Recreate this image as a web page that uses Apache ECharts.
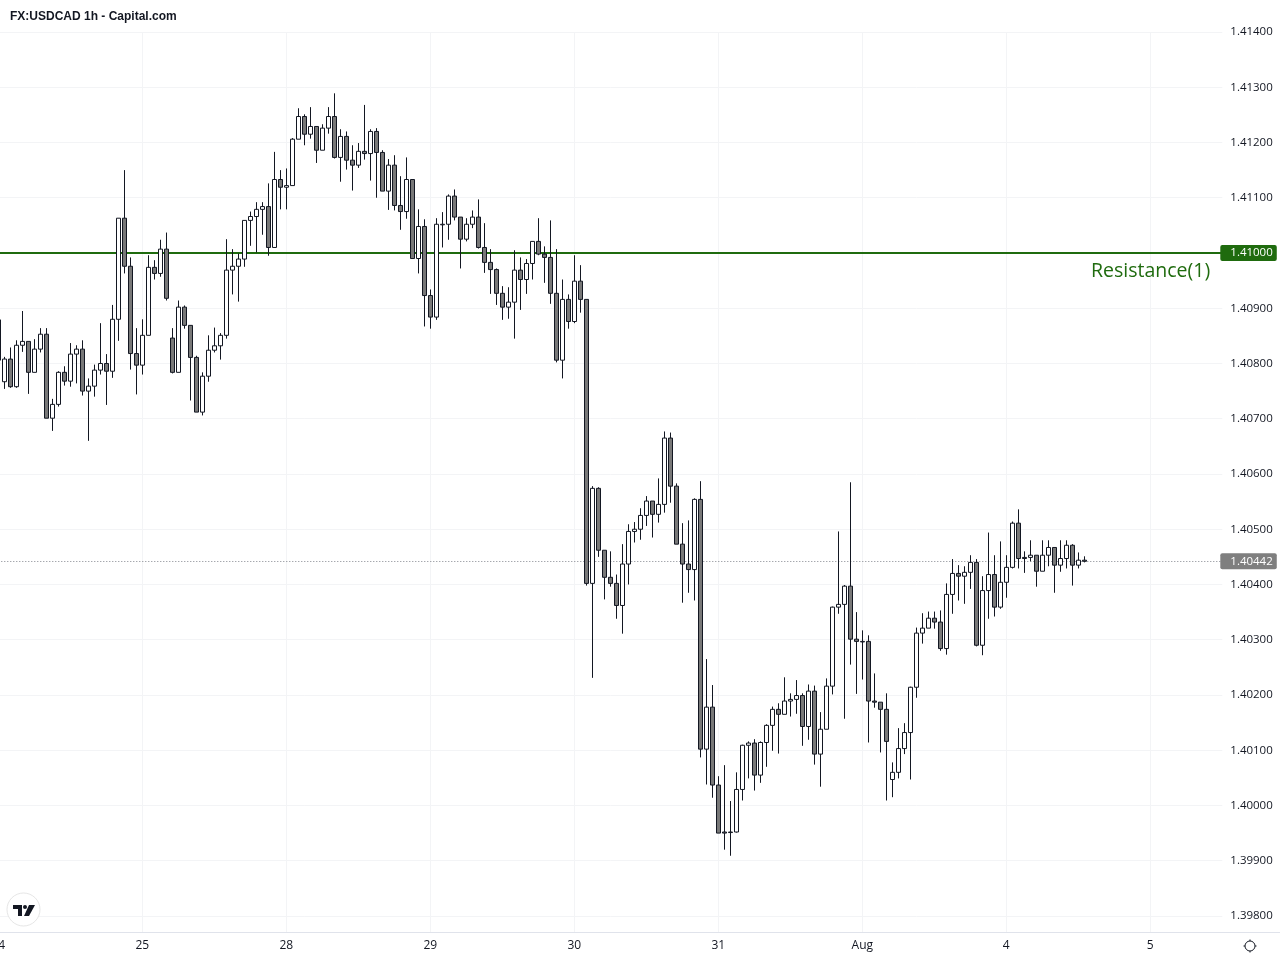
<!DOCTYPE html>
<html><head><meta charset="utf-8"><style>html,body{margin:0;padding:0;background:#fff}#c{width:1280px;height:960px}</style>
<script src="https://cdn.jsdelivr.net/npm/echarts@6/dist/echarts.min.js"></script></head><body><div id="c"></div>
<script>
const opens=[1.40806,1.40767,1.40808,1.40758,1.40833,1.40840,1.40784,1.40826,1.40853,1.40701,1.40726,1.40784,1.40768,1.40817,1.40826,1.40750,1.40759,1.40788,1.40800,1.40786,1.40880,1.41063,1.40976,1.40818,1.40797,1.40851,1.40974,1.40963,1.41007,1.40846,1.40784,1.40902,
1.40869,1.40811,1.40712,1.40777,1.40824,1.40832,1.40851,1.40969,1.40976,1.40989,1.41059,1.41066,1.41079,1.41084,1.41010,1.41133,1.41119,1.41122,1.41206,1.41247,1.41215,1.41229,1.41186,1.41226,1.41247,1.41173,1.41211,1.41168,1.41159,1.41184,1.41180,
1.41220,1.41182,1.41112,1.41159,1.41086,1.41075,1.41133,1.40990,1.41048,1.40923,1.40884,1.41051,1.41052,1.41103,1.41065,1.41025,1.41052,1.41065,1.41010,1.40983,1.40970,1.40927,1.40902,1.40911,1.40969,1.40952,1.40981,1.41021,1.40998,1.40992,1.40927,1.40806,1.40916,1.40876,1.40949,
1.40916,1.40402,1.40574,1.40462,1.40413,1.40402,1.40362,1.40437,1.40496,1.40500,1.40525,1.40551,1.40527,1.40545,1.40665,1.40578,1.40473,1.40437,1.40427,1.40554,
1.40102,1.40178,1.40037,1.39952,1.39951,1.39952,1.40029,1.40109,1.40113,1.40055,1.40114,1.40145,1.40174,1.40165,1.40189,1.40192,1.40199,1.40143,1.40207,1.40093,1.40138,
1.40216,1.40359,1.40364,1.40397,1.40301,1.40296,1.40297,1.40189,1.40187,1.40174,1.40047,1.40060,1.40103,1.40132,1.40214,1.40312,1.40321,1.40339,1.40332,1.40284,
1.40382,1.40420,1.40415,1.40422,1.40440,1.40290,1.40389,1.40418,1.40359,1.40404,1.40431,1.40511,1.40449,1.40449,1.40453,1.40424,1.40453,1.40467,1.40435,1.40447,1.40471,1.40435,1.40444];
const closes=[1.40879,1.40808,1.40758,1.40833,1.40840,1.40784,1.40826,1.40853,1.40701,1.40726,1.40784,1.40768,1.40817,1.40826,1.40750,1.40759,1.40788,1.40800,1.40786,1.40880,1.41063,1.40976,1.40818,1.40797,1.40851,1.40974,1.40963,1.41007,1.40918,1.40784,1.40902,1.40869,
1.40811,1.40712,1.40777,1.40824,1.40832,1.40851,1.40969,1.40976,1.40989,1.41059,1.41066,1.41079,1.41084,1.41010,1.41133,1.41119,1.41122,1.41206,1.41247,1.41215,1.41229,1.41186,1.41226,1.41247,1.41173,1.41211,1.41168,1.41159,1.41184,1.41180,1.41220,
1.41182,1.41112,1.41159,1.41086,1.41075,1.41133,1.40990,1.41048,1.40923,1.40884,1.41052,1.41052,1.41103,1.41065,1.41025,1.41052,1.41065,1.41010,1.40983,1.40970,1.40927,1.40902,1.40911,1.40969,1.40952,1.40981,1.41021,1.40998,1.40992,1.40927,1.40806,1.40916,1.40876,1.40949,1.40916,
1.40402,1.40574,1.40462,1.40413,1.40402,1.40362,1.40437,1.40496,1.40500,1.40525,1.40551,1.40527,1.40545,1.40665,1.40578,1.40473,1.40437,1.40427,1.40554,1.40102,
1.40178,1.40037,1.39950,1.39950,1.39952,1.40029,1.40109,1.40113,1.40055,1.40114,1.40145,1.40174,1.40165,1.40189,1.40192,1.40199,1.40143,1.40207,1.40093,1.40138,1.40216,
1.40359,1.40364,1.40397,1.40301,1.40297,1.40297,1.40189,1.40187,1.40174,1.40116,1.40060,1.40103,1.40132,1.40214,1.40312,1.40321,1.40339,1.40332,1.40284,1.40382,
1.40420,1.40415,1.40422,1.40440,1.40290,1.40389,1.40418,1.40359,1.40404,1.40431,1.40511,1.40447,1.40447,1.40453,1.40424,1.40453,1.40467,1.40435,1.40447,1.40471,1.40435,1.40444,1.40442];
const lows=[1.40806,1.40754,1.40756,1.40756,1.40821,1.40745,1.40784,1.40820,1.40701,1.40678,1.40722,1.40760,1.40758,1.40764,1.40742,1.40660,1.40740,1.40780,1.40725,1.40774,1.40841,1.40963,1.40789,1.40744,1.40780,1.40851,1.40952,1.40957,1.40914,1.40782,1.40784,1.40863,
1.40733,1.40712,1.40706,1.40767,1.40820,1.40807,1.40845,1.40925,1.40912,1.40975,1.41013,1.41001,1.41033,1.40995,1.41010,1.41079,1.41079,1.41122,1.41206,1.41195,1.41207,1.41163,1.41186,1.41216,1.41171,1.41129,1.41151,1.41113,1.41154,1.41169,1.41131,
1.41100,1.41112,1.41078,1.41077,1.41042,1.41062,1.40990,1.40963,1.40867,1.40863,1.40879,1.41010,1.41024,1.41059,1.40972,1.41021,1.41045,1.41008,1.40964,1.40926,1.40906,1.40879,1.40881,1.40845,1.40897,1.40926,1.40952,1.40996,1.40946,1.40908,1.40802,1.40773,1.40863,1.40873,1.40892,
1.40398,1.40231,1.40450,1.40373,1.40396,1.40338,1.40311,1.40400,1.40476,1.40481,1.40506,1.40485,1.40512,1.40530,1.40548,1.40473,1.40367,1.40385,1.40371,1.40087,
1.40038,1.40014,1.39950,1.39920,1.39909,1.39951,1.40009,1.40049,1.40027,1.40041,1.40070,1.40099,1.40094,1.40165,1.40161,1.40166,1.40108,1.40119,1.40074,1.40034,1.40138,
1.40201,1.40347,1.40157,1.40255,1.40202,1.40228,1.40114,1.40177,1.40096,1.40009,1.40015,1.40049,1.40093,1.40047,1.40195,1.40293,1.40321,1.40320,1.40280,1.40273,
1.40347,1.40371,1.40365,1.40392,1.40288,1.40272,1.40338,1.40342,1.40356,1.40376,1.40429,1.40429,1.40421,1.40442,1.40396,1.40424,1.40433,1.40385,1.40423,1.40429,1.40398,1.40429,1.40440];
const highs=[1.40879,1.40812,1.40829,1.40842,1.40895,1.40840,1.40844,1.40864,1.40864,1.40736,1.40786,1.40795,1.40837,1.40833,1.40842,1.40773,1.40798,1.40873,1.40817,1.40906,1.41063,1.41150,1.40992,1.40864,1.40880,1.40996,1.40987,1.41024,1.41037,1.40864,1.40914,1.40905,
1.40869,1.40814,1.40784,1.40851,1.40865,1.40855,1.41025,1.41007,1.40999,1.41059,1.41075,1.41092,1.41092,1.41126,1.41183,1.41150,1.41153,1.41208,1.41262,1.41251,1.41264,1.41229,1.41233,1.41264,1.41289,1.41224,1.41220,1.41195,1.41199,1.41268,1.41224,
1.41226,1.41186,1.41170,1.41177,1.41139,1.41173,1.41133,1.41079,1.41061,1.40934,1.41063,1.41074,1.41106,1.41115,1.41065,1.41063,1.41077,1.41097,1.41054,1.41007,1.40972,1.40940,1.40938,1.41005,1.40992,1.40989,1.41021,1.41063,1.41012,1.41059,1.41007,1.40952,1.40925,1.40996,1.40978,
1.40916,1.40578,1.40576,1.40462,1.40460,1.40418,1.40473,1.40509,1.40513,1.40538,1.40560,1.40551,1.40592,1.40677,1.40675,1.40583,1.40511,1.40516,1.40556,1.40587,
1.40265,1.40218,1.40053,1.40073,1.40008,1.40060,1.40110,1.40116,1.40120,1.40116,1.40147,1.40179,1.40185,1.40232,1.40203,1.40227,1.40203,1.40219,1.40217,1.40169,1.40230,
1.40360,1.40496,1.40399,1.40585,1.40350,1.40317,1.40308,1.40239,1.40187,1.40203,1.40078,1.40140,1.40149,1.40215,1.40322,1.40348,1.40351,1.40351,1.40353,1.40402,
1.40446,1.40435,1.40433,1.40453,1.40446,1.40415,1.40494,1.40453,1.40478,1.40453,1.40514,1.40536,1.40460,1.40480,1.40453,1.40480,1.40480,1.40467,1.40480,1.40480,1.40473,1.40458,1.40451];
const dayLabels={0:'24',24:'25',48:'28',72:'29',96:'30',120:'31',144:'Aug',168:'4',192:'5'};
const priceTicks=[1.398,1.399,1.400,1.401,1.402,1.403,1.404,1.405,1.406,1.407,1.408,1.409,1.410,1.411,1.412,1.413,1.414];
const resistance=1.41000, lastPrice=1.40442;
const slotCount=205;
const categories=Array.from({length:slotCount},(_,i)=>dayLabels[i]||'');
const candles=opens.map((o,i)=>[o,closes[i],lows[i],highs[i]]);
const ink='#131722', gridCol='#f3f4f6', edgeCol='#e0e3eb', green='#1f6b0e', tagGrey='#7f7f7f';
const font='"Open Sans",sans-serif';
function tag(col){return {show:true,position:'end',distance:-2,formatter:p=>p.value.toFixed(5),color:'#fff',backgroundColor:col,fontFamily:font,fontSize:11.5,padding:[1,4,1,10],lineHeight:14,borderRadius:2,align:'left',verticalAlign:'middle'};}
const chart=echarts.init(document.getElementById('c'),null,{renderer:'canvas'});
chart.setOption({animation:false,backgroundColor:'#fff',
grid:{left:-1.7,top:32,width:1224,height:900,containLabel:false,outerBoundsMode:'none'},
xAxis:{type:'category',data:categories,boundaryGap:false,
 axisLine:{show:false},axisTick:{show:false},
 axisLabel:{interval:(i,v)=>v!=='',color:ink,fontFamily:font,fontSize:12,margin:8,showMinLabel:true},
 splitLine:{show:true,interval:(i,v)=>v!=='',lineStyle:{color:gridCol,width:1}}},
yAxis:{type:'value',position:'right',scale:true,min:1.39771,max:1.414,
 axisLine:{show:false},
 axisTick:{show:false,customValues:priceTicks},
 axisLabel:{customValues:priceTicks,formatter:v=>v.toFixed(5),color:ink,fontFamily:font,fontSize:11.5,margin:8,padding:[4,0,0,0]},
 splitLine:{show:true,lineStyle:{color:gridCol,width:1}}},
series:[{type:'candlestick',data:candles,barWidth:5,z:3,
 itemStyle:{color:'#ffffff',color0:'#787878',borderColor:ink,borderColor0:ink,borderWidth:1},
 markLine:{silent:true,symbol:'none',z:1,animation:false,precision:5,
  data:[{yAxis:resistance,lineStyle:{color:green,width:2,type:'solid'},label:tag(green)},
        {yAxis:lastPrice,lineStyle:{color:'#80848c',width:1,type:[1,2]},label:tag(tagGrey)}]}}],
graphic:[
 {type:'rect',z:20,shape:{x:0,y:0,width:1280,height:27},style:{fill:'#fff'}},
 {type:'rect',z:20,shape:{x:0,y:27,width:1220,height:5},style:{fill:'#fff'}},
 {type:'line',z:21,shape:{x1:0,y1:32.5,x2:1220,y2:32.5},style:{stroke:gridCol,lineWidth:1}},
 {type:'text',z:22,x:10,y:11,style:{text:'FX:USDCAD 1h - Capital.com',fill:ink,font:'bold 12px "Liberation Sans",Arial,sans-serif'}},
 {type:'line',z:21,shape:{x1:0,y1:932.5,x2:1280,y2:932.5},style:{stroke:edgeCol,lineWidth:1}},
 {type:'text',z:22,x:1091,y:261,style:{text:'Resistance(1)',fill:green,font:'19.5px "Open Sans",sans-serif'}},
 {type:'circle',z:22,shape:{cx:23.5,cy:909.5,r:16.5},style:{fill:'#fff',stroke:'#e6e6e6',lineWidth:1}},
 {type:'polygon',z:23,shape:{points:[[13,905],[22,905],[22,916],[18,916],[18,909],[13,909]]},style:{fill:ink}},
 {type:'circle',z:23,shape:{cx:25,cy:907,r:2},style:{fill:ink}},
 {type:'polygon',z:23,shape:{points:[[29,905],[35,905],[29,916],[24,916]]},style:{fill:ink}},
 {type:'circle',z:22,shape:{cx:1250,cy:946,r:5},style:{fill:'#fff',stroke:ink,lineWidth:1}},
 {type:'line',z:22,shape:{x1:1250,y1:939.5,x2:1250,y2:941},style:{stroke:ink,lineWidth:1}},
 {type:'line',z:22,shape:{x1:1250,y1:951,x2:1250,y2:952.5},style:{stroke:ink,lineWidth:1}},
 {type:'line',z:22,shape:{x1:1243.5,y1:946,x2:1245,y2:946},style:{stroke:ink,lineWidth:1}},
 {type:'line',z:22,shape:{x1:1255,y1:946,x2:1256.5,y2:946},style:{stroke:ink,lineWidth:1}}
]});
</script></body></html>
